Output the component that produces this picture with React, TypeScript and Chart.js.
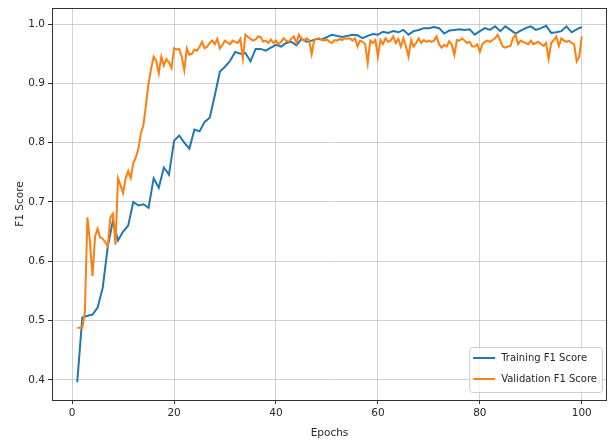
import React, { useEffect, useRef } from "react";
import { Chart, registerables } from "chart.js";

Chart.register(...registerables);

// Training F1 score, epochs 1..100
const trainingF1 = [
  0.396, 0.505, 0.508, 0.510, 0.522, 0.555, 0.625, 0.668, 0.635, 0.650,
  0.660, 0.700, 0.694, 0.696, 0.690, 0.740, 0.724, 0.758, 0.746, 0.803,
  0.812, 0.800, 0.790, 0.822, 0.819, 0.835, 0.842, 0.880, 0.920, 0.928,
  0.938, 0.953, 0.950, 0.951, 0.937, 0.958, 0.958, 0.955, 0.960, 0.965,
  0.962, 0.968, 0.970, 0.964, 0.975, 0.970, 0.972, 0.975, 0.974, 0.978,
  0.982, 0.980, 0.978, 0.980, 0.982, 0.981, 0.976, 0.980, 0.983, 0.982,
  0.987, 0.985, 0.988, 0.986, 0.990, 0.982, 0.988, 0.990, 0.993, 0.993,
  0.995, 0.993, 0.984, 0.989, 0.990, 0.991, 0.990, 0.991, 0.982, 0.988,
  0.993, 0.990, 0.996, 0.988, 0.996, 0.990, 0.984, 0.989, 0.993, 0.996,
  0.990, 0.993, 0.997, 0.985, 0.986, 0.988, 0.996, 0.986, 0.991, 0.995,
];

// Validation F1 score, recorded every half epoch from 1 to 100
const validationF1 = [
  0.488, 0.488, 0.488, 0.514, 0.674, 0.632, 0.575, 0.642, 0.655, 0.640,
  0.638, 0.632, 0.625, 0.674, 0.680, 0.628, 0.740, 0.728, 0.715, 0.740,
  0.752, 0.740, 0.765, 0.775, 0.790, 0.816, 0.830, 0.865, 0.900, 0.925,
  0.945, 0.938, 0.917, 0.945, 0.930, 0.941, 0.935, 0.926, 0.959, 0.957,
  0.958, 0.945, 0.922, 0.959, 0.948, 0.950, 0.957, 0.955, 0.962, 0.970,
  0.959, 0.962, 0.968, 0.972, 0.966, 0.975, 0.959, 0.965, 0.972, 0.968,
  0.966, 0.972, 0.970, 0.968, 0.975, 0.942, 0.982, 0.978, 0.975, 0.972,
  0.974, 0.979, 0.978, 0.970, 0.972, 0.968, 0.974, 0.968, 0.972, 0.966,
  0.970, 0.976, 0.972, 0.970, 0.975, 0.979, 0.968, 0.982, 0.975, 0.972,
  0.976, 0.973, 0.949, 0.973, 0.975, 0.976, 0.973, 0.972, 0.974, 0.970,
  0.968, 0.973, 0.972, 0.975, 0.973, 0.976, 0.975, 0.976, 0.972, 0.976,
  0.962, 0.972, 0.970, 0.966, 0.934, 0.972, 0.968, 0.973, 0.945, 0.973,
  0.966, 0.976, 0.970, 0.972, 0.979, 0.968, 0.975, 0.962, 0.976, 0.962,
  0.945, 0.973, 0.962, 0.968, 0.976, 0.968, 0.973, 0.970, 0.972, 0.970,
  0.972, 0.979, 0.966, 0.960, 0.965, 0.962, 0.971, 0.965, 0.948, 0.973,
  0.972, 0.976, 0.972, 0.968, 0.970, 0.962, 0.962, 0.966, 0.953, 0.966,
  0.970, 0.972, 0.970, 0.973, 0.976, 0.982, 0.972, 0.962, 0.960, 0.962,
  0.963, 0.976, 0.982, 0.966, 0.972, 0.970, 0.968, 0.966, 0.972, 0.966,
  0.968, 0.970, 0.966, 0.963, 0.968, 0.941, 0.968, 0.973, 0.979, 0.963,
  0.976, 0.972, 0.970, 0.972, 0.968, 0.966, 0.937, 0.945, 0.979,
];

const trainingEpochs = trainingF1.map((_, i) => i + 1);
const validationEpochs = validationF1.map((_, i) => 1 + i * 0.5);

const xTicks = [0, 20, 40, 60, 80, 100];
const yTicks = [0.4, 0.5, 0.6, 0.7, 0.8, 0.9, 1.0];
const seriesLabels = ["Training F1 Score", "Validation F1 Score"];
const seriesColors = ["#1f77b4", "#ff7f0e"];
const xLabel = "Epochs";
const yLabel = "F1 Score";

const FONT = '"DejaVu Sans", Verdana, sans-serif';
const TEXT_COLOR = "#262626";
const GRID_COLOR = "rgba(176,176,176,0.6)";
const SPINE_COLOR = "#333333";

const framePlugin = {
  id: "mplFrame",
  afterDatasetsDraw(chart: any) {
    const { ctx, chartArea } = chart;
    const { left, top, right, bottom } = chartArea;
    ctx.save();
    ctx.strokeStyle = SPINE_COLOR;
    ctx.lineWidth = 1;
    ctx.strokeRect(Math.round(left) + 0.5, Math.round(top) + 0.5, Math.round(right - left) - 1, Math.round(bottom - top));
    ctx.restore();
  },
};

const legendPlugin = {
  id: "mplLegend",
  afterDraw(chart: any) {
    const { ctx, chartArea } = chart;
    const datasets = chart.data.datasets;
    ctx.save();
    ctx.font = `10px ${FONT}`;
    const tw = Math.max(...datasets.map((d: any) => ctx.measureText(d.label).width));
    const lineLen = 22;
    const padL = 4;
    const gap = 6;
    const padR = 5;
    const w = padL + lineLen + gap + tw + padR;
    const h = 45;
    const rowH = 21;
    const x0 = chartArea.right - 5 - w;
    const y0 = chartArea.bottom - 8 - h;
    ctx.beginPath();
    if ((ctx as any).roundRect) {
      (ctx as any).roundRect(x0 + 0.5, y0 + 0.5, w, h, 3);
    } else {
      ctx.rect(x0 + 0.5, y0 + 0.5, w, h);
    }
    ctx.fillStyle = "rgba(255,255,255,0.8)";
    ctx.fill();
    ctx.strokeStyle = "#cccccc";
    ctx.lineWidth = 1;
    ctx.stroke();
    datasets.forEach((d: any, i: number) => {
      const cy = y0 + 11 + i * rowH;
      ctx.beginPath();
      ctx.moveTo(x0 + padL, cy);
      ctx.lineTo(x0 + padL + lineLen, cy);
      ctx.strokeStyle = d.borderColor;
      ctx.lineWidth = 2;
      ctx.stroke();
      ctx.fillStyle = TEXT_COLOR;
      ctx.textAlign = "left";
      ctx.textBaseline = "middle";
      ctx.fillText(d.label, x0 + padL + lineLen + gap, cy);
    });
    ctx.restore();
  },
};

export default function App() {
  const canvasRef = useRef<HTMLCanvasElement | null>(null);

  useEffect(() => {
    if (!canvasRef.current) return;
    const chart = new Chart(canvasRef.current, {
      type: "line",
      data: {
        datasets: [
          {
            label: seriesLabels[0],
            data: trainingEpochs.map((x, i) => ({ x, y: trainingF1[i] })),
            borderColor: seriesColors[0],
            backgroundColor: seriesColors[0],
            borderWidth: 2,
            pointRadius: 0,
            tension: 0,
            order: 1,
          },
          {
            label: seriesLabels[1],
            data: validationEpochs.map((x, i) => ({ x, y: validationF1[i] })),
            borderColor: seriesColors[1],
            backgroundColor: seriesColors[1],
            borderWidth: 2,
            pointRadius: 0,
            tension: 0,
            order: 0,
          },
        ],
      },
      options: {
        animation: false,
        responsive: false,
        maintainAspectRatio: false,
        devicePixelRatio: 1,
        layout: { padding: { left: 0, top: 8, right: 2, bottom: 0 } },
        plugins: {
          legend: { display: false },
          tooltip: { enabled: false },
          title: { display: false },
        },
        scales: {
          x: {
            type: "linear",
            min: -3.95,
            max: 104.95,
            afterBuildTicks: (scale: any) => {
              scale.ticks = xTicks.map((v) => ({ value: v }));
            },
            afterFit: (scale: any) => {
              scale.height = 45;
              scale.paddingLeft = 0;
              scale.paddingRight = 0;
            },
            grid: {
              color: GRID_COLOR,
              lineWidth: 1,
              drawTicks: true,
              tickLength: 4,
              tickColor: SPINE_COLOR,
              tickWidth: 1,
            },
            border: { display: false },
            ticks: {
              color: TEXT_COLOR,
              font: { family: FONT, size: 10.5 },
              padding: 3,
              maxRotation: 0,
              callback: (v: any) => String(v),
            },
            title: {
              display: true,
              text: xLabel,
              color: TEXT_COLOR,
              font: { family: FONT, size: 10.5 },
              padding: { top: 0, bottom: 5 },
            },
          },
          y: {
            type: "linear",
            min: 0.366,
            max: 1.027,
            afterBuildTicks: (scale: any) => {
              scale.ticks = yTicks.map((v) => ({ value: v }));
            },
            afterFit: (scale: any) => {
              scale.width = 52;
              scale.paddingTop = 0;
              scale.paddingBottom = 0;
            },
            grid: {
              color: GRID_COLOR,
              lineWidth: 1,
              drawTicks: true,
              tickLength: 4,
              tickColor: SPINE_COLOR,
              tickWidth: 1,
            },
            border: { display: false },
            ticks: {
              color: TEXT_COLOR,
              font: { family: FONT, size: 10.5 },
              padding: 3,
              callback: (v: any) => Number(v).toFixed(1),
            },
            title: {
              display: true,
              text: yLabel,
              color: TEXT_COLOR,
              font: { family: FONT, size: 10.5 },
              padding: { top: 14, bottom: 0 },
            },
          },
        },
      },
      plugins: [framePlugin, legendPlugin],
    } as any);
    return () => chart.destroy();
  }, []);

  return (
    <div style={{ position: "absolute", left: 0, top: 0, width: 609, height: 445, background: "#ffffff" }}>
      <canvas ref={canvasRef} width={609} height={445} style={{ width: 609, height: 445, display: "block" }} />
    </div>
  );
}
